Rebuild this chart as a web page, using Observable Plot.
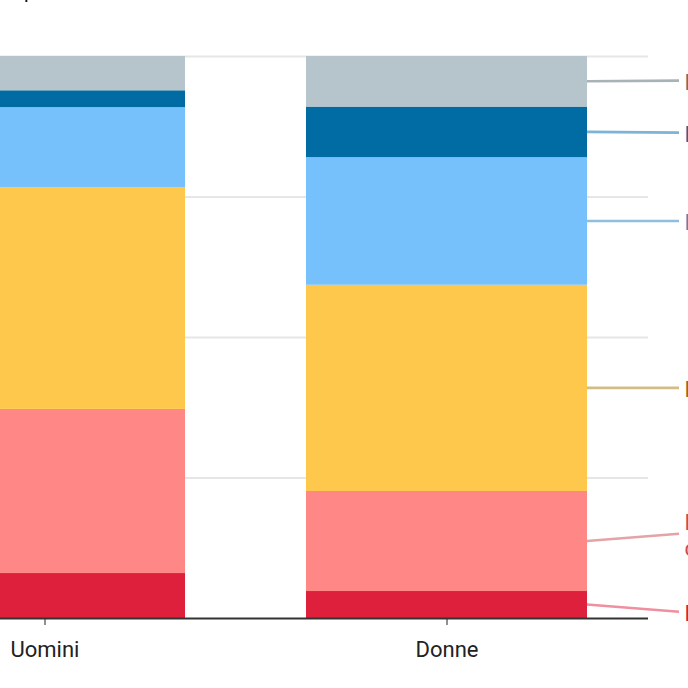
<!DOCTYPE html>
<html>
<head>
<meta charset="utf-8">
<script src="https://cdn.jsdelivr.net/npm/d3@7"></script>
<script src="https://cdn.jsdelivr.net/npm/@observablehq/plot@0.6"></script>
<style>
html, body { margin: 0; padding: 0; background: #fff; overflow: hidden; }
#wrap { position: relative; width: 688px; height: 688px; overflow: hidden; background: #fff; }
#title { position: absolute; z-index: 2; top: -19px; left: 0; font: 20px Roboto, sans-serif; line-height: 20px; color: #111; white-space: nowrap; }
#chart { position: absolute; z-index: 1; left: -196px; top: 0; width: 1044px; height: 688px; }
#chart svg { max-width: none !important; width: 1044px; height: 688px; display: block; }
</style>
</head>
<body>
<div id="wrap">
  <div id="chart"></div>
  <div id="title"><span id="pre">Grado di accordo es</span>presso da uomini e donne</div>
</div>
<script>
// ---- data (stack order: bottom to top) ----
const genders = ["Uomini", "Donne"];
const responses = ["Molto d'accordo", "Piuttosto d'accordo", "Né d'accordo né in disaccordo", "Poco d'accordo", "Per nulla d'accordo", "Non sa"];
const labelTexts = ["Molto d'accordo", "Piuttosto\nd'accordo", "Né d'accordo né in disaccordo", "Poco d'accordo", "Per nulla d'accordo", "Non sa / non risponde"];
const uominiValues = [8.0, 29.2, 39.5, 14.2, 3.0, 6.1];
const donneValues = [4.8, 17.8, 36.7, 22.7, 9.0, 9.0];
const barColors = ["#df203d", "#ff8886", "#fec84d", "#76c0fb", "#006ca3", "#b6c4cb"];
const leaderColors = ["#ef8fa0", "#e4a3a7", "#d3bd85", "#8fbfdc", "#7db3d4", "#a9b2b7"];
const labelColors = ["#d61f3f", "#c94a55", "#8c6d1f", "#3d8cc2", "#0b6da8", "#6b6f72"];
const yGrid = [25, 50, 75, 100];

// ---- table ----
const table = [];
genders.forEach((g, gi) => {
  const vals = gi === 0 ? uominiValues : donneValues;
  responses.forEach((r, ri) => table.push({gender: g, response: r, value: vals[ri]}));
});

// ---- layout ----
const W = 1044, H = 688, mTop = 56, mBottom = 70, mLeft = 40, mRight = 200;
const pxPerUnit = (H - mTop - mBottom) / 100;

// ---- right labels: segment midpoints of last bar, then dodged ----
let acc = 0;
const labels = responses.map((r, i) => {
  const mid = acc + donneValues[i] / 2;
  acc += donneValues[i];
  return {response: r, text: labelTexts[i], mid, ly: mid, lines: labelTexts[i].split("\n").length, i};
});
const ordered = labels.slice().sort((a, b) => b.mid - a.mid);
for (let it = 0; it < 300; it++) {
  for (let k = 0; k < ordered.length - 1; k++) {
    const a = ordered[k], b = ordered[k + 1];
    const sep = 26 * (Math.max(a.lines, b.lines) + 1);
    const d = (a.ly - b.ly) * pxPerUnit;
    if (d < sep) {
      const s = (sep - d) / 2 / pxPerUnit;
      a.ly += s; b.ly -= s;
    }
  }
}

function leaders(index, scales, values, dimensions) {
  const xs = scales.x, ys = scales.y;
  const bw = typeof xs.bandwidth === "function" ? xs.bandwidth() : scales.scales.x.bandwidth;
  const x0 = xs(genders[genders.length - 1]) + bw;
  const x1 = dimensions.width - dimensions.marginRight + 31;
  const g = d3.create("svg:g");
  for (const l of labels) {
    g.append("line")
      .attr("x1", x0).attr("y1", ys(l.mid))
      .attr("x2", x1).attr("y2", ys(l.ly))
      .attr("stroke", leaderColors[l.i]).attr("stroke-width", 2.6);
  }
  return g.node();
}

const chart = Plot.plot({
  width: W, height: H,
  marginTop: mTop, marginBottom: mBottom, marginLeft: mLeft, marginRight: mRight,
  style: {fontFamily: "Roboto, sans-serif", fontSize: "22px", color: "#222", background: "transparent", maxWidth: "none"},
  x: {domain: genders, paddingInner: 0.3, paddingOuter: 0.15, label: null, tickSize: 7, tickPadding: 16},
  y: {domain: [0, 100], axis: null},
  color: {domain: responses, range: barColors},
  marks: [
    Plot.ruleY(yGrid, {stroke: "#e6e6e6", strokeWidth: 2}),
    Plot.barY(table, {x: "gender", y: "value", fill: "response", order: null}),
    Plot.ruleY([0], {stroke: "#333", strokeWidth: 2}),
    leaders,
    Plot.text(labels, {frameAnchor: "right", y: "ly", text: "text", dx: 36, textAnchor: "start",
      lineAnchor: "middle", lineHeight: 1.2, fontSize: 22, fill: d => labelColors[d.i]})
  ]
});
document.getElementById("chart").appendChild(chart);

// title placement: put the descender of "p" near the chart's left edge region
const pre = document.getElementById("pre");
document.getElementById("title").style.left = (24 - pre.getBoundingClientRect().width) + "px";
</script>
</body>
</html>
